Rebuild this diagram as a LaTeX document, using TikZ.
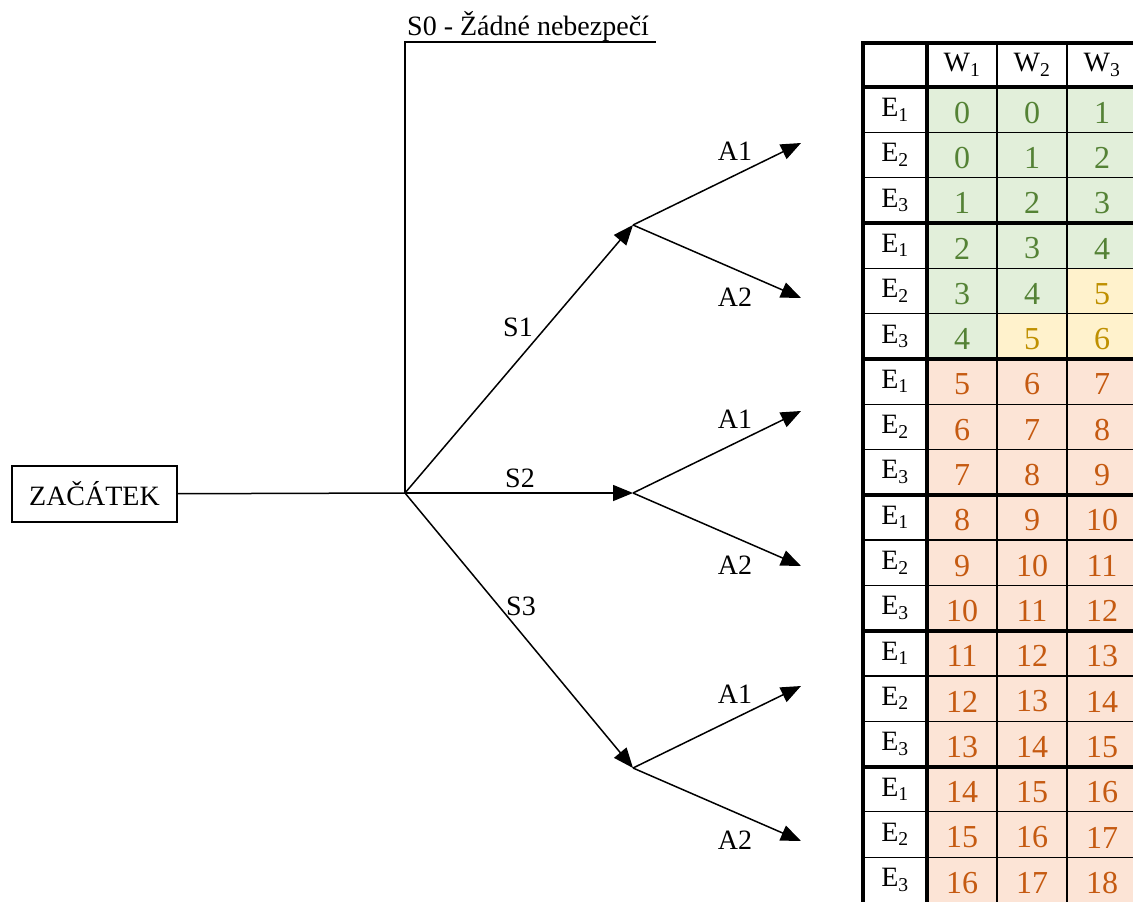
\documentclass[tikz,border=0pt]{standalone}
\usepackage{fontspec}
\setmainfont{Liberation Serif}
\usetikzlibrary{arrows.meta,positioning}

\definecolor{cellgreen}{HTML}{E2EFDA}
\definecolor{textgreen}{HTML}{548235}
\definecolor{cellyellow}{HTML}{FFF2CC}
\definecolor{textyellow}{HTML}{BF9000}
\definecolor{cellred}{HTML}{FCE4D6}
\definecolor{textred}{HTML}{C55A11}

\tikzset{
  lbl/.style={font=\fontsize{28}{32}\selectfont, inner sep=0pt},
  stem/.style={line width=1.5pt},
  branch/.style={line width=1.5pt, -{Triangle[length=20pt,width=16pt]}},
  ecell/.style={lbl, draw, line width=1.2pt, minimum width=64pt, minimum height=45.3pt},
  wcell/.style={lbl, draw, line width=1.2pt, minimum width=70pt, minimum height=45.3pt},
  numcell/.style={wcell, font=\fontsize{32}{36}\selectfont},
  thick line/.style={line width=4pt}
}

\begin{document}
\begin{tikzpicture}[x=1pt, y=-1pt]

        \useasboundingbox (0,0) rectangle (1133,902);

        % Start box and the line to the root
        \node[lbl, draw, line width=1.5pt, minimum width=165pt, minimum height=56pt] (start) at (94.5,494) {ZAČÁTEK};
        \coordinate (root) at (405,493);
        \draw[stem] (start) -- (root);

        % S0 branch (no danger)
        \coordinate (s0top) at (405,42);
        \coordinate (s0end) at (656,42);
        \draw[stem] (root) -- (s0top) -- (s0end);
        \node[lbl, anchor=base west] (s0label) at (407,35) {S0 - Žádné nebezpečí};

        % S1, S2, S3 and their A1/A2 arrows
        \foreach \s/\y/\lx/\ly in {1/225/518/327, 2/493/520/478, 3/768/521/606} {
            \coordinate (s\s) at (633,\y);
            \draw[branch] (root) -- (s\s);
            \node[lbl] (s\s label) at (\lx,\ly) {S\s};
            \coordinate (s\s a1) at (801,{\y-82});
            \coordinate (s\s a2) at (801,{\y+73});
            \draw[branch] (s\s) -- (s\s a1);
            \draw[branch] (s\s) -- (s\s a2);
            \node[lbl] (s\s a1 label) at (735,{\y-74}) {A1};
            \node[lbl] (s\s a2 label) at (735,{\y+72}) {A2};
        }

        % Table header
        \node[ecell, minimum height=44pt] (head) at (895,65) {};
        \foreach \w in {1,2,3} {
            \node[wcell, minimum height=44pt] (w\w) at ({927+70*\w-35},65) {W\textsubscript{\w}};
        }

        % Table body
        \foreach \r/\a/\b/\c in {0/0/0/1, 1/0/1/2, 2/1/2/3, 3/2/3/4, 4/3/4/5, 5/4/5/6,
                                 6/5/6/7, 7/6/7/8, 8/7/8/9, 9/8/9/10, 10/9/10/11, 11/10/11/12,
                                 12/11/12/13, 13/12/13/14, 14/13/14/15, 15/14/15/16, 16/15/16/17, 17/16/17/18} {
            \pgfmathtruncatemacro\e{mod(\r,3)+1}
            \pgfmathsetmacro\ymid{87+45.3*\r+22.65}
            \node[ecell] (e\r) at (895,\ymid) {E\textsubscript{\e}};
            \foreach \v [count=\k] in {\a,\b,\c} {
                \ifnum\r<6 \ifnum\v<5 \def\cc{green}\else\def\cc{yellow}\fi \else \def\cc{red}\fi
                \node[numcell, fill=cell\cc] (c\r-\k) at ({927+70*\k-35},\ymid) {};
                \node[font=\fontsize{32}{36}\selectfont, text=text\cc, inner sep=0pt, yshift=-3pt] at (c\r-\k) {\v};
            }
        }

        % Thick table lines
        \draw[thick line] (861,43) -- (1137,43);
        \draw[thick line] (863,41) -- (863,904);
        \draw[thick line] (927,41) -- (927,904);
        \draw[thick line] (861,87) -- (1137,87);
        \foreach \g in {1,...,5} {
            \draw[thick line] (861,{87+135.9*\g}) -- (1137,{87+135.9*\g});
        }

\end{tikzpicture}
\end{document}
